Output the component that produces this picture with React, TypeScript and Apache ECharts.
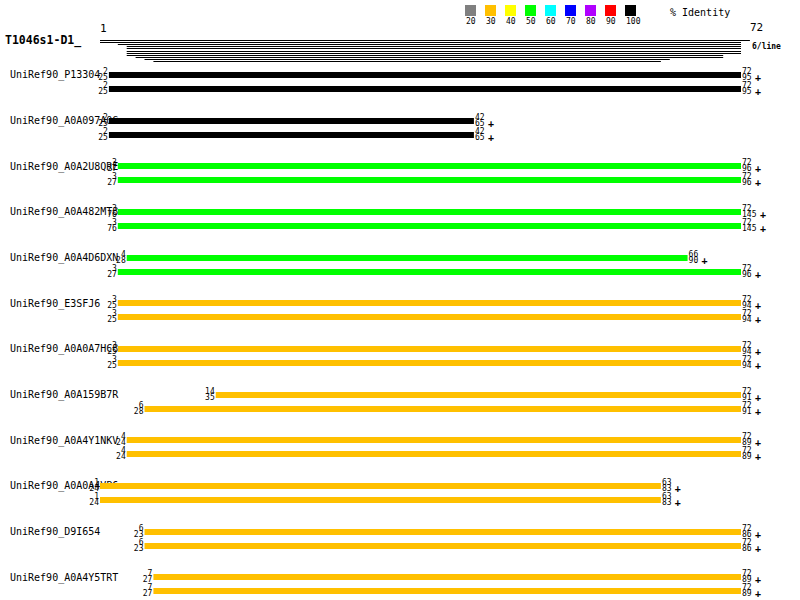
import React, { useEffect, useRef } from "react";
import * as echarts from "echarts";

// ---------- data ----------
const queryName = "T1046s1-D1_";
const queryLength = 72;
const hitsPerLine = "6/line";

const subjects = [
  "UniRef90_P13304",
  "UniRef90_A0A097A0G",
  "UniRef90_A0A2U8QRE",
  "UniRef90_A0A482MT8",
  "UniRef90_A0A4D6DXN",
  "UniRef90_E3SFJ6",
  "UniRef90_A0A0A7HC8",
  "UniRef90_A0A159B7R",
  "UniRef90_A0A4Y1NKV",
  "UniRef90_A0A0A4VP6",
  "UniRef90_D9I654",
  "UniRef90_A0A4Y5TRT",
];

const hitSubject = [0, 0, 1, 1, 2, 2, 3, 3, 4, 4, 5, 5, 6, 6, 7, 7, 8, 8, 9, 9, 10, 10, 11, 11];
const hitRank = [0, 1, 0, 1, 0, 1, 0, 1, 0, 1, 0, 1, 0, 1, 0, 1, 0, 1, 0, 1, 0, 1, 0, 1];
const hitQueryStart = [2, 2, 2, 2, 3, 3, 3, 3, 4, 3, 3, 3, 3, 3, 14, 6, 4, 4, 1, 1, 6, 6, 7, 7];
const hitQueryEnd = [72, 72, 42, 42, 72, 72, 72, 72, 66, 72, 72, 72, 72, 72, 72, 72, 72, 72, 63, 63, 72, 72, 72, 72];
const hitSubjectStart = [25, 25, 25, 25, 27, 27, 76, 76, 28, 27, 25, 25, 25, 25, 35, 28, 24, 24, 24, 24, 23, 23, 27, 27];
const hitSubjectEnd = [95, 95, 65, 65, 96, 96, 145, 145, 90, 96, 94, 94, 94, 94, 91, 91, 89, 89, 83, 83, 86, 86, 89, 89];
const hitIdentity = [100, 100, 100, 100, 50, 50, 50, 50, 50, 50, 30, 30, 30, 30, 30, 30, 30, 30, 30, 30, 30, 30, 30, 30];

const overviewStart = [1, 1, 3, 4, 4, 4, 4, 4, 5, 6, 7];
const overviewEnd = [73, 72, 72, 72, 72, 72, 72, 70, 70, 64, 63];

const identityBins = [20, 30, 40, 50, 60, 70, 80, 90, 100];
const identityColors = [
  "#808080", "#ffc000", "#ffff00", "#00ff00", "#00ffff",
  "#0000ff", "#b000ff", "#ff0000", "#000000",
];
const identityTitle = "% Identity";

// ---------- styles ----------
const MONO = '"DejaVu Sans Mono", "Liberation Mono", monospace';
const SMALL = `8px ${MONO}`;
const ROW_GAP = 14;
const BAR_H = 6;

function colorFor(id: number) {
  let idx = 0;
  for (let i = 0; i < identityBins.length; i++) if (id >= identityBins[i]) idx = i;
  return identityColors[idx];
}

export default function App() {
  const ref = useRef<HTMLDivElement>(null);

  useEffect(() => {
    document.body.style.margin = "0";
    const chart = echarts.init(ref.current!, null, { renderer: "svg" });

    const hitData = hitSubject.map((s, i) => [
      hitQueryStart[i] - 1,
      hitQueryEnd[i],
      s,
      hitRank[i],
    ]);
    const overviewData = overviewStart.map((s, i) => [s - 1, overviewEnd[i], i]);

    const legendGraphics: any[] = [];
    identityBins.forEach((b, i) => {
      legendGraphics.push({
        type: "rect",
        left: 465 + i * 20,
        top: 5,
        shape: { width: 11, height: 11 },
        style: { fill: identityColors[i] },
      });
      legendGraphics.push({
        type: "text",
        x: 466 + i * 20,
        y: 21,
        style: { text: String(b), font: SMALL, fill: "#000", align: "left", verticalAlign: "middle" },
      });
    });

    const option: any = {
      animation: false,
      backgroundColor: "#ffffff",
      grid: [
        { left: 100, width: 641, top: 52, height: 552 },
        { left: 100, width: 641, top: 39, height: 23 },
      ],
      xAxis: [
        { gridIndex: 0, type: "value", min: 0, max: queryLength, show: false },
        { gridIndex: 1, type: "value", min: 0, max: queryLength, show: false },
      ],
      yAxis: [
        {
          gridIndex: 0,
          type: "category",
          data: subjects,
          inverse: true,
          axisLine: { show: false },
          axisTick: { show: false },
          splitLine: { show: false },
          axisLabel: {
            align: "left",
            margin: 90,
            fontFamily: MONO,
            fontSize: 10,
            color: "#000",
          },
        },
        {
          gridIndex: 1,
          type: "category",
          data: overviewStart.map((_, i) => String(i)),
          inverse: true,
          show: false,
        },
      ],
      series: [
        {
          type: "custom",
          xAxisIndex: 1,
          yAxisIndex: 1,
          clip: false,
          data: overviewData,
          encode: { x: [0, 1], y: 2 },
          renderItem: (params: any, api: any) => {
            const a = api.coord([api.value(0), api.value(2)]);
            const b = api.coord([api.value(1), api.value(2)]);
            const y = Math.round(a[1]);
            return {
              type: "rect",
              shape: { x: a[0], y: y, width: b[0] - a[0], height: 1 },
              style: { fill: "#000" },
            };
          },
        },
        {
          type: "custom",
          xAxisIndex: 0,
          yAxisIndex: 0,
          clip: false,
          data: hitData,
          encode: { x: [0, 1], y: 2 },
          renderItem: (params: any, api: any) => {
            const i = params.dataIndex;
            const a = api.coord([api.value(0), api.value(2)]);
            const b = api.coord([api.value(1), api.value(2)]);
            const yc = Math.round(a[1]) + api.value(3) * ROW_GAP;
            const txt = (t: string, x: number, y: number, align: string, font = SMALL) => ({
              type: "text",
              style: { text: t, x, y, font, fill: "#000", align, verticalAlign: "middle" },
            });
            const endLabel = String(hitSubjectEnd[i]);
            return {
              type: "group",
              children: [
                {
                  type: "rect",
                  shape: { x: a[0], y: yc - BAR_H / 2, width: b[0] - a[0], height: BAR_H },
                  style: { fill: colorFor(hitIdentity[i]) },
                },
                txt(String(hitQueryStart[i]), a[0] - 1, yc - 4, "right"),
                txt(String(hitSubjectStart[i]), a[0] - 1, yc + 2, "right"),
                txt(String(hitQueryEnd[i]), b[0] + 1, yc - 4, "left"),
                txt(endLabel, b[0] + 1, yc + 2, "left"),
                txt("+", b[0] + 1 + endLabel.length * 5 + 6, yc + 2, "center", `bold 10px ${MONO}`),
              ],
            };
          },
        },
      ],
      graphic: [
        {
          type: "text",
          x: 5,
          y: 40,
          style: { text: queryName, font: `bold 11.5px ${MONO}`, fill: "#000", verticalAlign: "middle" },
        },
        {
          type: "text",
          x: 100,
          y: 28,
          style: { text: "1", font: `11px ${MONO}`, fill: "#000", verticalAlign: "middle" },
        },
        {
          type: "text",
          x: 750,
          y: 27,
          style: { text: String(queryLength), font: `11px ${MONO}`, fill: "#000", verticalAlign: "middle" },
        },
        {
          type: "text",
          x: 752,
          y: 46,
          style: { text: hitsPerLine, font: `bold 8px ${MONO}`, fill: "#000", verticalAlign: "middle" },
        },
        {
          type: "text",
          x: 670,
          y: 12,
          style: { text: identityTitle, font: `10px ${MONO}`, fill: "#000", verticalAlign: "middle" },
        },
        ...legendGraphics,
      ],
    };

    chart.setOption(option);
    return () => chart.dispose();
  }, []);

  return <div ref={ref} style={{ width: 800, height: 600 }} />;
}
